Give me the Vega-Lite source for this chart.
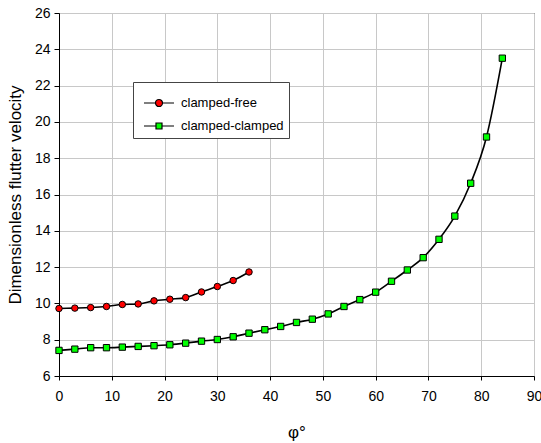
{
  "$schema": "https://vega.github.io/schema/vega-lite/v6.json",
  "width": 475,
  "height": 363,
  "autosize": {"type": "none"},
  "padding": {"left": 59, "top": 13, "right": 7, "bottom": 67},
  "background": "white",
  "config": {
    "font": "Liberation Sans",
    "view": {"stroke": "black", "strokeWidth": 1}
  },
  "data": {
    "values": [
      {"phi": 0, "v": 9.72, "series": "clamped-free"},
      {"phi": 3, "v": 9.74, "series": "clamped-free"},
      {"phi": 6, "v": 9.77, "series": "clamped-free"},
      {"phi": 9, "v": 9.83, "series": "clamped-free"},
      {"phi": 12, "v": 9.94, "series": "clamped-free"},
      {"phi": 15, "v": 9.97, "series": "clamped-free"},
      {"phi": 18, "v": 10.14, "series": "clamped-free"},
      {"phi": 21, "v": 10.23, "series": "clamped-free"},
      {"phi": 24, "v": 10.32, "series": "clamped-free"},
      {"phi": 27, "v": 10.63, "series": "clamped-free"},
      {"phi": 30, "v": 10.93, "series": "clamped-free"},
      {"phi": 33, "v": 11.26, "series": "clamped-free"},
      {"phi": 36, "v": 11.73, "series": "clamped-free"},
      {"phi": 0, "v": 7.41, "series": "clamped-clamped"},
      {"phi": 3, "v": 7.48, "series": "clamped-clamped"},
      {"phi": 6, "v": 7.56, "series": "clamped-clamped"},
      {"phi": 9, "v": 7.56, "series": "clamped-clamped"},
      {"phi": 12, "v": 7.59, "series": "clamped-clamped"},
      {"phi": 15, "v": 7.63, "series": "clamped-clamped"},
      {"phi": 18, "v": 7.67, "series": "clamped-clamped"},
      {"phi": 21, "v": 7.72, "series": "clamped-clamped"},
      {"phi": 24, "v": 7.81, "series": "clamped-clamped"},
      {"phi": 27, "v": 7.92, "series": "clamped-clamped"},
      {"phi": 30, "v": 8.01, "series": "clamped-clamped"},
      {"phi": 33, "v": 8.16, "series": "clamped-clamped"},
      {"phi": 36, "v": 8.36, "series": "clamped-clamped"},
      {"phi": 39, "v": 8.55, "series": "clamped-clamped"},
      {"phi": 42, "v": 8.73, "series": "clamped-clamped"},
      {"phi": 45, "v": 8.95, "series": "clamped-clamped"},
      {"phi": 48, "v": 9.13, "series": "clamped-clamped"},
      {"phi": 51, "v": 9.42, "series": "clamped-clamped"},
      {"phi": 54, "v": 9.83, "series": "clamped-clamped"},
      {"phi": 57, "v": 10.21, "series": "clamped-clamped"},
      {"phi": 60, "v": 10.62, "series": "clamped-clamped"},
      {"phi": 63, "v": 11.22, "series": "clamped-clamped"},
      {"phi": 66, "v": 11.84, "series": "clamped-clamped"},
      {"phi": 69, "v": 12.52, "series": "clamped-clamped"},
      {"phi": 72, "v": 13.53, "series": "clamped-clamped"},
      {"phi": 75, "v": 14.81, "series": "clamped-clamped"},
      {"phi": 78, "v": 16.62, "series": "clamped-clamped"},
      {"phi": 81, "v": 19.17, "series": "clamped-clamped"},
      {"phi": 84, "v": 23.51, "series": "clamped-clamped"}
    ]
  },
  "encoding": {
    "x": {
      "field": "phi",
      "type": "quantitative",
      "scale": {"domain": [0, 90], "nice": false, "zero": false},
      "axis": {
        "values": [0, 10, 20, 30, 40, 50, 60, 70, 80, 90],
        "grid": true,
        "gridColor": "#c8c8c8",
        "gridWidth": 1,
        "domainColor": "black",
        "tickColor": "black",
        "tickSize": 4,
        "labelFontSize": 14,
        "labelColor": "black",
        "labelPadding": 9,
        "labelFlush": false,
        "title": "φ°",
        "titleFontSize": 17,
        "titleFontWeight": "normal",
        "titleColor": "black",
        "titleBaseline": "middle",
        "titleY": 56
      }
    },
    "y": {
      "field": "v",
      "type": "quantitative",
      "scale": {"domain": [6, 26], "nice": false, "zero": false},
      "axis": {
        "values": [6, 8, 10, 12, 14, 16, 18, 20, 22, 24, 26],
        "grid": true,
        "gridColor": "#c8c8c8",
        "gridWidth": 1,
        "domainColor": "black",
        "tickColor": "black",
        "tickSize": 5,
        "labelFontSize": 14,
        "labelColor": "black",
        "labelPadding": 4,
        "labelFlush": false,
        "title": "Dimensionless flutter velocity",
        "titleFontSize": 17,
        "titleFontWeight": "normal",
        "titleColor": "black",
        "titleBaseline": "middle",
        "titleX": -44
      }
    }
  },
  "layer": [
    {
      "mark": {"type": "line", "color": "black", "strokeWidth": 1.6, "interpolate": "monotone"},
      "encoding": {"detail": {"field": "series"}}
    },
    {
      "transform": [{"filter": "datum.phi < 0"}],
      "mark": {"type": "point", "filled": true, "stroke": "black", "strokeWidth": 1.2, "opacity": 1},
      "encoding": {
        "fill": {
          "field": "series",
          "type": "nominal",
          "scale": {"domain": ["clamped-free", "clamped-clamped"], "range": ["#ff0000", "#00ff00"]},
          "legend": {
            "title": null,
            "orient": "none",
            "legendX": 74,
            "legendY": 69,
            "direction": "vertical",
            "padding": 5,
            "rowPadding": -9,
            "fillColor": "white",
            "strokeColor": "#444444",
            "cornerRadius": 0,
            "labelFontSize": 13,
            "labelColor": "black",
            "labelOffset": 11,
            "symbolSize": 900,
            "symbolStrokeColor": "black",
            "symbolStrokeWidth": 1.2,
            "symbolOpacity": 1
          }
        },
        "shape": {
          "field": "series",
          "type": "nominal",
          "scale": {
            "domain": ["clamped-free", "clamped-clamped"],
            "range": [
              "M-0.667,0H0.1M0.567,0H1.333M0.567,0A0.233,0.233,0,1,1,0.1,0A0.233,0.233,0,1,1,0.567,0Z",
              "M-0.667,0H0.133M0.533,0H1.333M0.133,-0.2H0.533V0.2H0.133Z"
            ]
          }
        }
      }
    },
    {
      "transform": [{"filter": "datum.series === 'clamped-free'"}],
      "mark": {"type": "point", "shape": "circle", "filled": true, "fill": "#ff0000", "stroke": "black", "strokeWidth": 1, "opacity": 1, "size": 42}
    },
    {
      "transform": [{"filter": "datum.series === 'clamped-clamped'"}],
      "mark": {"type": "point", "shape": "square", "filled": true, "fill": "#00ff00", "stroke": "black", "strokeWidth": 1, "opacity": 1, "size": 40}
    }
  ]
}
